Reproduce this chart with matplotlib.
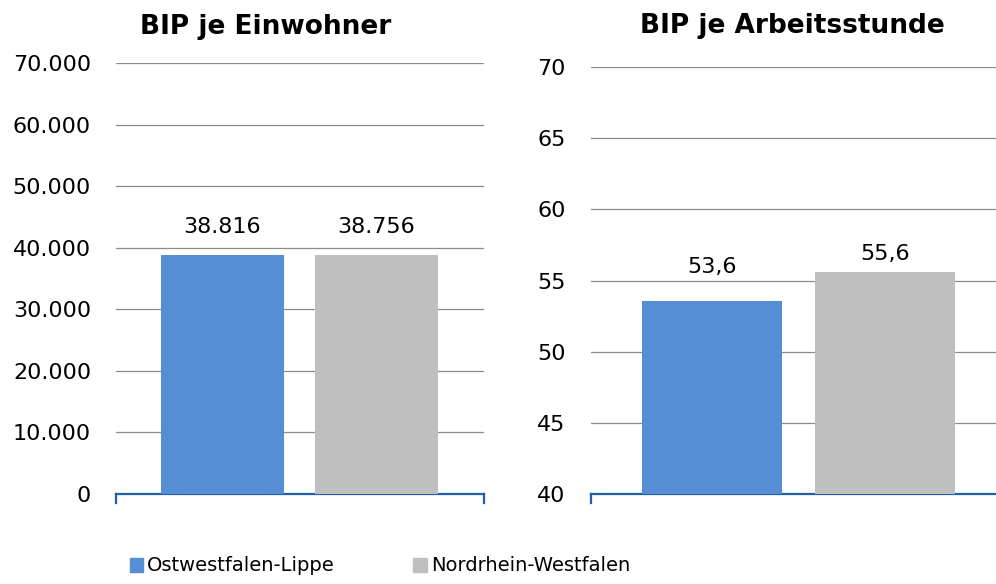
import matplotlib.pyplot as plt
from matplotlib.patches import Rectangle

plt.rcParams['font.family'] = ['DejaVu Sans']

regions = ["Ostwestfalen-Lippe", "Nordrhein-Westfalen"]
colors = ["#558ED5", "#BFBFBF"]
bip_einwohner = [38816, 38756]
bip_stunde = [53.6, 55.6]
left_ticks = [0, 10000, 20000, 30000, 40000, 50000, 60000, 70000]
right_ticks = [40, 45, 50, 55, 60, 65, 70]


def de_int(v):
    return "{:,}".format(int(v)).replace(",", ".")


def de_dec(v):
    return "{:.1f}".format(v).replace(".", ",")


fig = plt.figure(figsize=(9.96, 5.84), dpi=100)
ax1 = fig.add_axes([0.1165, 0.154, 0.3695, 0.738])
ax2 = fig.add_axes([0.593, 0.154, 0.407, 0.731])

axis_col = "#1F5EA8"
grid_col = "#8C8C8C"
fs = 16


def style(ax, ticks, fmt):
    ax.set_yticks(ticks)
    ax.set_yticklabels([fmt(t) for t in ticks], fontsize=fs)
    ax.set_ylim(ticks[0], ticks[-1])
    ax.tick_params(axis='y', length=0, pad=18)
    ax.set_xticks([])
    for s in ['top', 'right', 'left']:
        ax.spines[s].set_visible(False)
    ax.spines['bottom'].set_color(axis_col)
    ax.spines['bottom'].set_linewidth(1.6)
    ax.yaxis.grid(True, color=grid_col, linewidth=0.9)
    ax.set_axisbelow(True)


style(ax1, left_ticks, de_int)
ax1.set_xlim(-0.69, 1.70)
ax1.bar([0, 1], bip_einwohner, width=0.8, color=colors, zorder=3)
for i, v in enumerate(bip_einwohner):
    ax1.annotate(de_int(v), (i, v), xytext=(0, 16), textcoords='offset points',
                 ha='center', va='baseline', fontsize=fs)
# small end ticks on category axis
for xx in [-0.69, 1.70]:
    ax1.plot([xx, xx], [0, -1400], color=axis_col, lw=1.6, clip_on=False)

style(ax2, right_ticks, lambda t: str(t))
ax2.set_xlim(-0.697, 1.637)
ax2.bar([0, 1], bip_stunde, width=0.807, color=colors, zorder=3)
offs = [20, 9]
for i, v in enumerate(bip_stunde):
    ax2.annotate(de_dec(v), (i, v), xytext=(0, offs[i]), textcoords='offset points',
                 ha='center', va='baseline', fontsize=fs)
ax2.plot([-0.697, -0.697], [40, 39.4], color=axis_col, lw=1.6, clip_on=False)

fig.text(0.267, 0.953, "BIP je Einwohner", ha='center', va='center',
         fontsize=19, fontweight='bold')
fig.text(0.796, 0.956, "BIP je Arbeitsstunde", ha='center', va='center',
         fontsize=19, fontweight='bold')

# legend
for x0, tx, lab, c in [(0.1305, 0.147, regions[0], colors[0]),
                       (0.415, 0.433, regions[1], colors[1])]:
    fig.patches.append(Rectangle((x0, 0.021), 0.0135, 0.023, color=c,
                                 transform=fig.transFigure, figure=fig))
    fig.text(tx, 0.032, lab, ha='left', va='center', fontsize=14)

fig.savefig("out.png", dpi=100)
